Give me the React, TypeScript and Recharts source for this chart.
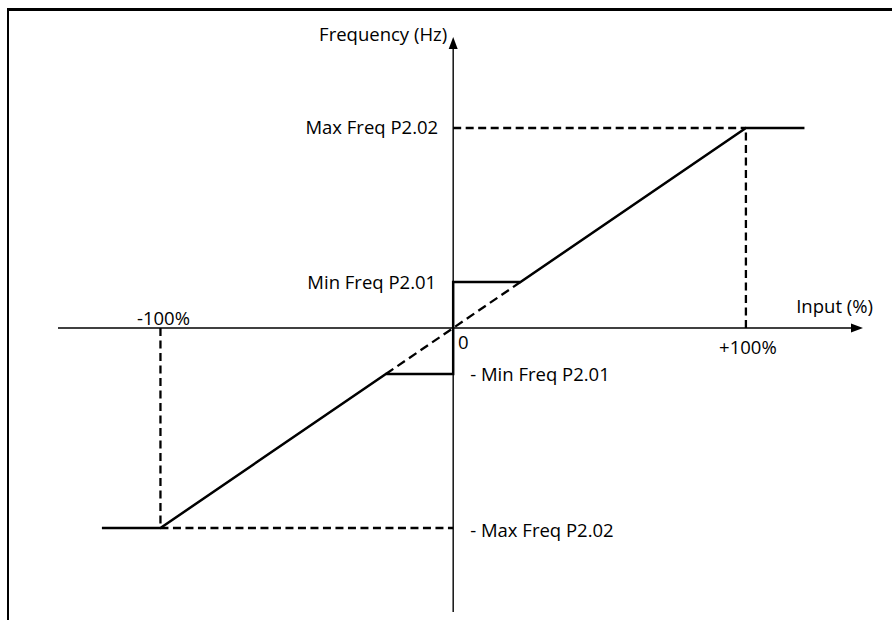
import React from "react";
import { LineChart, Line, XAxis, YAxis, ReferenceLine, ReferenceDot } from "recharts";

// input (%) → frequency (% of Max Freq P2.02)
const inputs = [-120, -100, -23, 0, 0, 23, 100, 120];
const freqs = [-100, -100, -23, -23, 23, 23, 100, 100];

const maxFreq = 100;
const minFreq = 23;
const inputMin = -135;
const inputMax = 140;
const freqMin = -142;
const freqMax = 145.5;

const xTickLabels = ["-100%", "0", "+100%"];
const yTickLabels = ["Max Freq P2.02", "Min Freq P2.01", "- Min Freq P2.01", "- Max Freq P2.02"];
const axisTitles = ["Input (%)", "Frequency (Hz)"];

const curve = inputs.map((x, i) => ({ x, y: freqs[i] }));

const FONT = "'Open Sans', sans-serif";

const Arrow = (p: any) => {
    const { x1, y1, x2, y2 } = p;
    const ang = Math.atan2(y2 - y1, x2 - x1);
    const len = 12;
    const half = 4.5;
    const bx = x2 - len * Math.cos(ang);
    const by = y2 - len * Math.sin(ang);
    const nx = -Math.sin(ang) * half;
    const ny = Math.cos(ang) * half;
    return (
        <g>
            <line x1={x1} y1={y1} x2={bx} y2={by} stroke="#000" strokeWidth={1.4} />
            <polygon points={`${x2},${y2} ${bx + nx},${by + ny} ${bx - nx},${by - ny}`} fill="#000" />
        </g>
    );
};

const textAt = (label: string, dx: number, dy: number, anchor: "start" | "middle" | "end") => (p: any) => (
    <text
        x={p.cx + dx}
        y={p.cy + dy}
        textAnchor={anchor}
        dominantBaseline="central"
        fontFamily={FONT}
        fontSize={18.5}
        fill="#000"
    >
        {label}
    </text>
);

export default function App() {
    const dash = { stroke: "#000", strokeWidth: 2.3, strokeDasharray: "8 4.5" };
    return (
        <div style={{ position: "absolute", left: 0, top: 0, width: 892, height: 620, background: "#fff" }}>
            <div
                style={{
                    position: "absolute",
                    left: 7,
                    top: 8,
                    width: 885,
                    height: 612,
                    borderTop: "3px solid #000",
                    borderLeft: "2px solid #000",
                    boxSizing: "border-box",
                }}
            />
            <LineChart
                width={892}
                height={620}
                margin={{ top: 37, right: 29, bottom: 8, left: 58 }}
                style={{ position: "absolute", left: 0, top: 0 }}
            >
                <XAxis type="number" dataKey="x" domain={[inputMin, inputMax]} allowDataOverflow hide />
                <YAxis type="number" dataKey="y" domain={[freqMin, freqMax]} allowDataOverflow hide />

                {/* axes */}
                <ReferenceLine segment={[{ x: inputMin, y: 0 }, { x: inputMax, y: 0 }]} shape={Arrow} />
                <ReferenceLine segment={[{ x: 0, y: freqMin }, { x: 0, y: freqMax }]} shape={Arrow} />

                {/* dashed guides */}
                <ReferenceLine segment={[{ x: 0, y: maxFreq }, { x: 100, y: maxFreq }]} {...dash} />
                <ReferenceLine segment={[{ x: 100, y: 0 }, { x: 100, y: maxFreq }]} {...dash} />
                <ReferenceLine segment={[{ x: -100, y: -maxFreq }, { x: 0, y: -maxFreq }]} {...dash} />
                <ReferenceLine segment={[{ x: -100, y: 0 }, { x: -100, y: -maxFreq }]} {...dash} />
                <ReferenceLine
                    segment={[{ x: -minFreq, y: -minFreq }, { x: minFreq, y: minFreq }]}
                    stroke="#000"
                    strokeWidth={2.3}
                    strokeDasharray="9 5"
                />

                <Line
                    data={curve}
                    dataKey="y"
                    type="linear"
                    stroke="#000"
                    strokeWidth={2.5}
                    dot={false}
                    activeDot={false}
                    isAnimationActive={false}
                />

                {/* labels */}
                <ReferenceDot x={0} y={freqMax} r={0} shape={textAt(axisTitles[1], -6, -4, "end")} />
                <ReferenceDot x={inputMax} y={0} r={0} shape={textAt(axisTitles[0], 10, -23, "end")} />
                <ReferenceDot x={0} y={maxFreq} r={0} shape={textAt(yTickLabels[0], -15, -2, "end")} />
                <ReferenceDot x={0} y={minFreq} r={0} shape={textAt(yTickLabels[1], -17, -1, "end")} />
                <ReferenceDot x={0} y={-minFreq} r={0} shape={textAt(yTickLabels[2], 17, -1, "start")} />
                <ReferenceDot x={0} y={-maxFreq} r={0} shape={textAt(yTickLabels[3], 17, 1, "start")} />
                <ReferenceDot x={-100} y={0} r={0} shape={textAt(xTickLabels[0], 3, -11, "middle")} />
                <ReferenceDot x={0} y={0} r={0} shape={textAt(xTickLabels[1], 10, 13, "middle")} />
                <ReferenceDot x={100} y={0} r={0} shape={textAt(xTickLabels[2], 2, 18, "middle")} />
            </LineChart>
        </div>
    );
}
